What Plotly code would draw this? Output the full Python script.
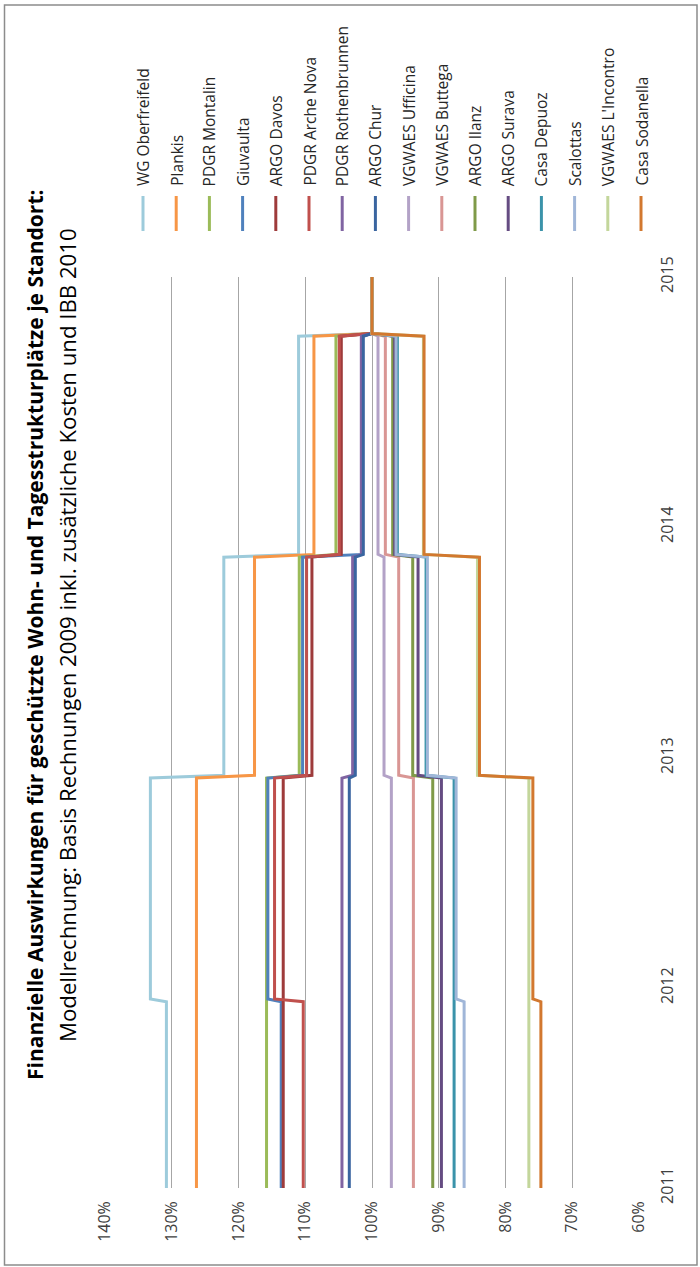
import plotly.graph_objects as go

W, H = 700, 1267

# ---------------- data ----------------
series_names = ["WG Oberfreifeld", "Plankis", "PDGR Montalin", "Giuvaulta", "ARGO Davos",
                "PDGR Arche Nova", "PDGR Rothenbrunnen", "ARGO Chur", "VGWAES Ufficina",
                "VGWAES Buttega", "ARGO Ilanz", "ARGO Surava", "Casa Depuoz", "Scalottas",
                "VGWAES L'Incontro", "Casa Sodanella"]
series_colors = ["#9DCBDB", "#F79646", "#9BBB59", "#4F81BD", "#9E3B3B",
                 "#C0504D", "#8064A2", "#3A65A0", "#B3A2C7",
                 "#D99694", "#7F9A48", "#654C82", "#3B93AA", "#A0B6D8",
                 "#C3D69B", "#D2782F"]
v2011 = [130.8, 126.3, 115.8, 113.6, 113.3, 110.3, 104.5, 103.4, 97.1, 93.8, 90.9, 89.6, 87.7, 86.2, 76.5, 74.7]
v2012 = [133.2, 126.3, 115.8, 115.6, 113.3, 114.6, 104.5, 103.4, 97.1, 93.8, 90.9, 89.6, 87.7, 87.4, 76.5, 75.9]
v2013 = [122.2, 117.6, 110.9, 110.4, 109.0, 109.8, 102.9, 102.5, 98.2, 96.0, 93.9, 93.1, 91.9, 91.7, 84.2, 83.9]
v2014 = [111.0, 108.7, 105.4, 101.5, 104.6, 104.9, 101.6, 101.3, 99.1, 98.0, 96.9, 96.6, 96.2, 96.4, 92.3, 92.2]
v2015 = [100.0] * 16
step_times = [2011.818, 2012.80, 2013.77, 2014.74]   # when the yearly change takes effect
step_width = 0.012
t_start, t_end = 2011, 2015
year_tick_pos = [2011.0, 2011.878, 2012.888, 2013.902, 2015.0]   # where the category labels sit
year_labels = ["2011", "2012", "2013", "2014", "2015"]
pct_ticks = [140, 130, 120, 110, 100, 90, 80, 70, 60]
pct_labels = ["140%", "130%", "120%", "110%", "100%", "90%", "80%", "70%", "60%"]

title1 = "Finanzielle Auswirkungen für geschützte Wohn- und Tagesstrukturplätze je Standort:"
title2 = "Modellrechnung: Basis Rechnungen 2009 inkl. zusätzliche Kosten und IBB 2010"

FONT = "Open Sans"

def px(x):
    return x / W

def py(y):
    return 1 - y / H

fig = go.Figure()

for i, name in enumerate(series_names):
    levels = [v2011[i], v2012[i], v2013[i], v2014[i], v2015[i]]
    t = [t_start]
    v = [levels[0]]
    for k, s in enumerate(step_times):
        t += [s, s + step_width]
        v += [levels[k], levels[k + 1]]
    t.append(t_end)
    v.append(levels[-1])
    fig.add_trace(go.Scatter(x=v, y=t, mode="lines", name=name,
                             line=dict(color=series_colors[i], width=3),
                             showlegend=False, hoverinfo="skip"))

x_left, x_right = 105, 639
y_top, y_bot = 277, 1188

fig.update_layout(
    width=W, height=H,
    margin=dict(l=0, r=0, t=0, b=0, autoexpand=False),
    paper_bgcolor="white", plot_bgcolor="white",
    font=dict(family=FONT, color="#404040", size=16),
    xaxis=dict(domain=[px(x_left), px(x_right)], range=[140, 60],
               tickmode="array", tickvals=pct_ticks, ticktext=pct_labels,
               tickangle=-90, showgrid=True, gridcolor="#A6A6A6", gridwidth=1,
               zeroline=False, showline=False, ticks="", automargin=False,
               tickfont=dict(family=FONT, size=16, color="#404040"),
               ticklabelstandoff=9),
    yaxis=dict(domain=[py(y_bot), py(y_top)], range=[t_start, t_end], side="right",
               tickmode="array", tickvals=year_tick_pos, ticktext=year_labels,
               tickangle=-90, showgrid=False, zeroline=False, showline=False, ticks="",
               automargin=False,
               tickfont=dict(family=FONT, size=16, color="#404040"),
               ticklabelstandoff=17),
)

shapes = []
annotations = []
# outer frame
shapes.append(dict(type="rect", xref="paper", yref="paper",
                   x0=px(4.5), x1=px(697), y0=py(1265), y1=py(5),
                   line=dict(color="#8C8C8C", width=1.5)))
# rotated legend drawn manually
leg_x0, leg_dx = 143, 33.2
for i, name in enumerate(series_names):
    lx = leg_x0 + i * leg_dx
    shapes.append(dict(type="line", xref="paper", yref="paper",
                       x0=px(lx), x1=px(lx), y0=py(196), y1=py(231),
                       line=dict(color=series_colors[i], width=3)))
    annotations.append(dict(xref="paper", yref="paper", x=px(lx), y=py(188),
                            text=name, showarrow=False, textangle=-90,
                            xanchor="center", yanchor="bottom",
                            font=dict(family=FONT, size=15.5, color="#262626")))
# titles
annotations.append(dict(xref="paper", yref="paper", x=px(35), y=py(635),
                        text="<b>" + title1 + "</b>", showarrow=False, textangle=-90,
                        xanchor="center", yanchor="middle",
                        font=dict(family=FONT, size=21, color="#000000")))
annotations.append(dict(xref="paper", yref="paper", x=px(67), y=py(635),
                        text=title2, showarrow=False, textangle=-90,
                        xanchor="center", yanchor="middle",
                        font=dict(family=FONT, size=22.2, color="#000000")))

fig.update_layout(shapes=shapes, annotations=annotations, hovermode=False)

page_fix = ("document.documentElement.style.margin='0px';"
            "document.documentElement.style.overflow='hidden';"
            "document.body.style.margin='0px';"
            "document.body.style.overflow='hidden';")

fig.write_html("out.html",
               config={"displayModeBar": False, "responsive": False, "staticPlot": True},
               post_script=page_fix)
